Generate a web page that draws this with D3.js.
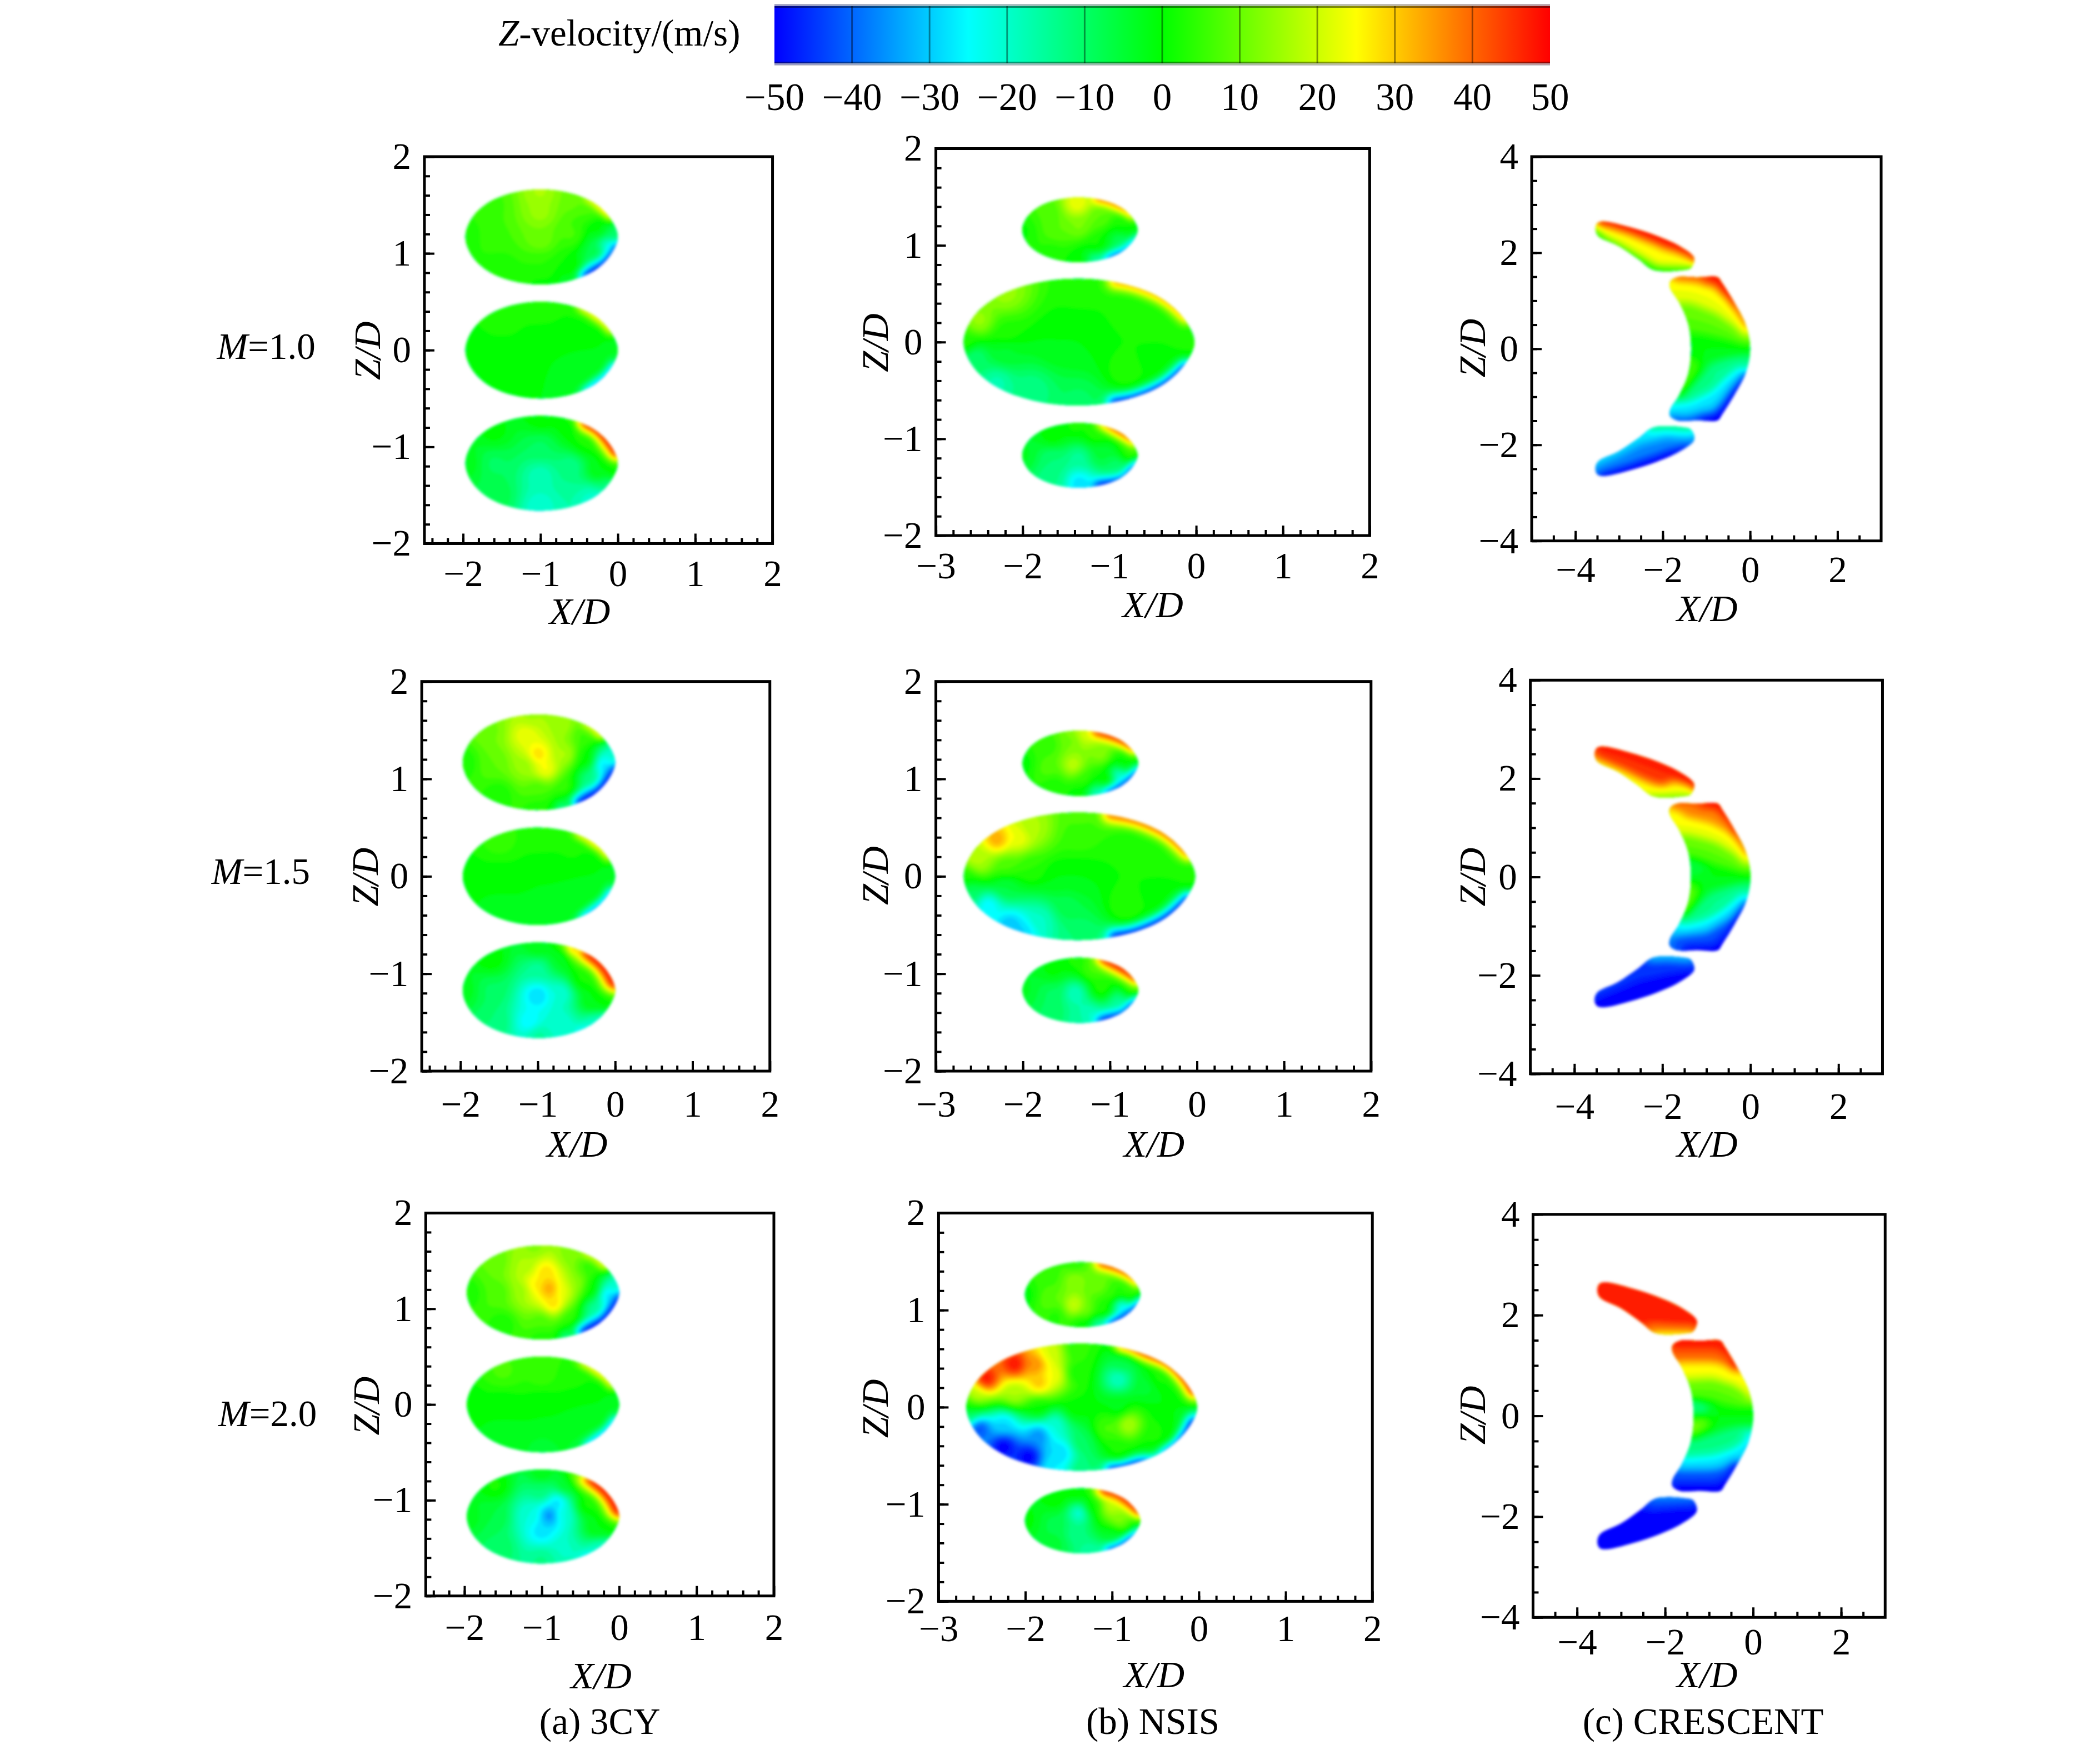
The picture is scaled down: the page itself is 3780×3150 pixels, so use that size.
<!DOCTYPE html>
<html>
<head>
<meta charset="utf-8">
<script src="https://cdn.jsdelivr.net/npm/d3@7"></script>
<style>
body { margin: 0; background: #fff; }
text { font-family: "Liberation Serif", serif; fill: #000; }
</style>
</head>
<body>
<div id="chart"></div>
<script>
// velocity ticks and row / column names
const colorTicks = [-50, -40, -30, -20, -10, 0, 10, 20, 30, 40, 50];
const colorDomain = [-50, -25, 0, 25, 50];
const colorRange = ["#0000ff", "#00ffff", "#00ff00", "#ffff00", "#ff0000"];
const blowingRatios = ["1.0", "1.5", "2.0"];
const captions = ["(a) 3CY", "(b) NSIS", "(c) CRESCENT"];

// axis ranges per column
const xDomains = [[-2.5, 2], [-3, 2], [-5, 3]];
const zDomains = [[-2, 2], [-2, 2], [-4, 4]];
const xSteps = [1, 1, 2];
const zSteps = [1, 1, 2];
const minorSteps = [0.2, 0.2, 0.5];

// hole outlines
const ovalUnit = [[1, 0], [.92, .34], [.72, .68], [.4, .91], [0, 1], [-.4, .92], [-.72, .7], [-.92, .38], [-1, 0],
  [-.92, -.38], [-.72, -.7], [-.4, -.92], [0, -1], [.4, -.91], [.72, -.68], [.92, -.34]];
const cyHoles = [[-.985, 1.17, .985, .49], [-.985, 0, .985, .5], [-.985, -1.17, .985, .49]];
const nsisHoles = [[-1.34, 1.16, .665, .335], [-1.35, 0, 1.33, .655], [-1.34, -1.17, .665, .335]];
const wingUpper = [[-3.35, 2.65], [-2.75, 2.53], [-2.13, 2.35], [-1.62, 2.14], [-1.28, 1.89], [-1.36, 1.68], [-1.51, 1.64],
  [-2.21, 1.64], [-2.55, 1.86], [-3.01, 2.14], [-3.48, 2.35], [-3.54, 2.5], [-3.49, 2.62]];
const crescentMid = [[-1.67, 1.49], [-1.2, 1.49], [-.74, 1.49], [-.64, 1.37], [-.36, .96], [-.1, .5], [0, 0], [-.1, -.5], [-.36, -.96],
  [-.64, -1.37], [-.74, -1.49], [-1.2, -1.49], [-1.67, -1.49], [-1.83, -1.4], [-1.83, -1.27], [-1.62, -.96], [-1.41, -.5], [-1.35, 0],
  [-1.41, .5], [-1.62, .96], [-1.83, 1.27], [-1.83, 1.4]];
const wingLower = [[-3.35, -2.65], [-2.75, -2.53], [-2.13, -2.35], [-1.62, -2.14], [-1.28, -1.89], [-1.36, -1.68], [-1.51, -1.64],
  [-2.21, -1.64], [-2.55, -1.86], [-3.01, -2.14], [-3.48, -2.35], [-3.54, -2.5], [-3.49, -2.62]];

// Z-velocity at [x/D, z/D, m/s], one list per hole
const cy10Top = [[-1.95,1.17,3],[-1.6,1.5,7],[-1.6,1.17,7],[-1.55,.85,3],[-1,1.64,18],[-1,1.42,16],[-1,1.15,12],[-1,.88,5],[-1,.68,2],[-.6,1.58,12],[-.6,1.2,8],[-.6,.85,3],[-.4,1.45,8],[-.25,1.25,1],[-.05,1.2,-8],[-.28,1.02,-6],[-.13,1.07,-22],[-.55,.72,-3]];
const cy10Mid = [[-1.95,0,1],[-1.5,.35,4],[-1.5,0,2],[-1.5,-.35,1],[-1,.48,4],[-1,0,0],[-1,-.48,0],[-.5,.3,2],[-.5,-.3,-1],[-.3,.15,1],[-.05,0,-2],[-.3,-.15,-1]];
const cy10Bot = [[-1.95,-1.17,-1],[-1.6,-.85,1],[-1.6,-1.17,-8],[-1.55,-1.5,-6],[-1,-.7,2],[-1,-1,-8],[-1,-1.3,-17],[-1,-1.62,-20],[-.6,-.8,1],[-.6,-1.2,-12],[-.6,-1.55,-15],[-.42,-.95,3],[-.25,-1.25,0],[-.05,-1.25,2],[-.15,-1.4,-10],[-.35,-1.5,-18]];

const cy15Top = [[-1.95,1.17,3],[-1.6,1.5,12],[-1.55,1.17,10],[-1.5,.85,3],[-1.1,1.64,17],[-1.15,1.45,25],[-1.15,1.15,16],[-1,1.25,30],[-.9,1.1,26],[-1,.9,8],[-1,.68,3],[-.7,1.55,17],[-.65,1.25,18],[-.65,.9,6],[-.4,1.45,7],[-.38,1.2,2],[-.15,1.14,-27],[-.03,1.18,-18],[-.32,1,-12],[-.6,.72,-3]];
const cy15Mid = [[-1.95,0,1],[-1.5,.35,6],[-1.5,0,1],[-1.5,-.35,-1],[-1,.48,5],[-1,0,0],[-1,-.48,-2],[-.5,.3,3],[-.5,-.3,-1],[-.3,.15,1],[-.05,0,-2],[-.3,-.15,-1]];
const cy15Bot = [[-1.95,-1.17,-1],[-1.6,-.85,2],[-1.6,-1.17,-8],[-1.55,-1.5,-10],[-1,-.72,0],[-1,-.95,-14],[-1,-1.22,-28],[-1.1,-1.5,-25],[-1,-1.63,-14],[-.7,-.85,-2],[-.7,-1.2,-20],[-.7,-1.52,-20],[-.47,-.73,4],[-.42,-1.05,3],[-.3,-1.3,0],[-.09,-1.32,2],[-.27,-1.5,-18]];

const cy20Top = [[-1.95,1.17,3],[-1.6,1.5,10],[-1.55,1.17,8],[-1.5,.85,3],[-1.1,1.64,14],[-1.2,1.45,18],[-1.25,1.2,16],[-.9,1.21,36],[-.95,1.38,30],[-.85,1.05,30],[-1.1,1.25,28],[-.72,1.2,24],[-1,.87,8],[-1,.68,3],[-.65,1.55,14],[-.55,1.25,15],[-.65,.9,6],[-.4,1.45,6],[-.36,1.2,2],[-.15,1.14,-27],[-.03,1.2,-18],[-.32,1,-14],[-.6,.72,-3]];
const cy20Mid = [[-1.95,0,1],[-1.5,.35,8],[-1.5,0,1],[-1.5,-.35,-2],[-1,.48,6],[-1,.3,6],[-1,0,0],[-1,-.48,-3],[-.5,.3,3],[-.5,-.3,-2],[-.3,.15,1],[-.05,0,-2],[-.3,-.15,-1]];
const cy20Bot = [[-1.95,-1.17,-1],[-1.6,-.85,3],[-1.6,-1.17,-5],[-1.55,-1.5,-8],[-1,-.72,0],[-1,-.9,-10],[-.895,-1.16,-36],[-.8,-1.02,-27],[-1,-1.32,-27],[-1.15,-1.15,-20],[-.72,-1.15,-20],[-1,-1.63,-12],[-.7,-.85,-3],[-.7,-1.52,-18],[-.47,-.73,4],[-.42,-1.05,3],[-.3,-1.3,0],[-.09,-1.32,2],[-.27,-1.5,-18]];

const nsis10Top = [[-2,1.15,2],[-1.7,1.35,8],[-1.6,1.15,10],[-1.65,.95,4],[-1.37,1.43,25],[-1.35,1.2,13],[-1.35,.85,1],[-1.1,1.3,10],[-1.15,1,3],[-.85,1.2,3],[-.72,1.15,1],[-.87,1.06,-8],[-1.15,.85,-15]];
const nsis10Mid = [[-2.65,0,4],[-2.5,.22,16],[-2.2,.5,16],[-2.2,.1,4],[-1.6,0,0],[-1.35,0,0],[-1.35,.6,4],[-1.35,-.6,-8],[-.8,.3,3],[-.8,-.3,4],[-.1,0,3],[-.55,.2,3],[-2.3,-.42,-16],[-2.55,-.15,-10],[-2.2,-.1,-3],[-1.9,-.5,-12],[-.55,-.2,2]];
const nsis10Bot = [[-2,-1.17,-2],[-1.65,-.97,2],[-1.65,-1.2,-10],[-1.65,-1.4,-12],[-1.35,-1.2,-14],[-1.35,-1.45,-27],[-1.4,-.87,3],[-1.15,-.95,4],[-1.1,-1.15,-4],[-.75,-1.15,6],[-.9,-1.3,-10]];

const nsis15Top = [[-2,1.15,1],[-1.7,1.35,6],[-1.7,1.1,9],[-1.65,.95,3],[-1.42,1.14,20],[-1.42,1.4,12],[-1.3,1.45,22],[-1.3,1,6],[-1.35,.85,1],[-1.1,1.25,14],[-1.05,1,3],[-.85,1.17,2],[-.72,1.18,2],[-.9,1.04,-20],[-1.15,.84,-18]];
const nsis15Mid = [[-2.65,0,3],[-2.55,.2,20],[-2.3,.38,35],[-2.05,.4,25],[-2.5,.15,18],[-1.9,.5,18],[-1.9,.1,5],[-2.2,.1,8],[-1.6,0,0],[-1.35,0,0],[-1.35,.4,6],[-1.35,.62,8],[-1.35,-.62,-10],[-.8,.3,3],[-.8,-.3,5],[-.1,0,3],[-.55,.2,3],[-2.6,-.15,-8],[-2.4,-.3,-25],[-2.15,-.5,-30],[-2,-.57,-28],[-1.8,-.45,-18],[-2.2,-.1,-5],[-1.5,-.3,-6],[-.55,-.2,2]];
const nsis15Bot = [[-2,-1.17,-2],[-1.65,-.97,1],[-1.65,-1.2,-8],[-1.65,-1.4,-8],[-1.4,-1.2,-18],[-1.35,-1.45,-14],[-1.4,-.87,3],[-1.2,-.95,8],[-1.1,-1.15,4],[-.72,-1.17,6],[-.9,-1.3,-14],[-1.25,-1.42,-18]];

const nsis20Top = [[-2,1.15,1],[-1.7,1.35,6],[-1.7,1.1,10],[-1.65,.95,4],[-1.43,1.05,22],[-1.43,1.31,15],[-1.43,1.47,5],[-1.3,1,12],[-1.35,.85,1],[-1.15,1.25,12],[-1.1,1,4],[-1,1.15,6],[-.72,1.16,6],[-.85,1.17,6],[-.89,1.05,-24],[-1.15,.84,-16]];
const nsis20Mid = [[-2.45,.29,50],[-2.12,.44,50],[-1.88,.44,38],[-1.84,.25,32],[-1.67,.33,25],[-1.71,.55,22],[-2.57,.13,20],[-2.12,.15,18],[-2.66,0,3],[-1.84,0,2],[-1.42,0,2],[-1.42,.36,3],[-1.42,.6,5],[-.93,.29,-18],[-.89,.47,-5],[-.6,.22,-4],[-.93,0,-1],[-.4,0,0],[-.81,-.18,18],[-1.06,-.22,8],[-.52,-.29,4],[-.93,-.44,3],[-.48,.29,3],[-.53,-.44,0],[-2.53,-.22,-42],[-2.25,-.4,-50],[-1.96,-.51,-50],[-1.84,-.29,-35],[-2.25,-.18,-28],[-1.67,-.18,-20],[-1.59,-.47,-28],[-1.67,-.62,-25],[-1.34,-.36,-8],[-1.34,-.65,-10],[-.4,-.29,2],[-2.66,-.07,-10]];
const nsis20Bot = [[-2,-1.17,1],[-1.65,-.95,2],[-1.65,-1.2,-6],[-1.65,-1.4,-4],[-1.38,-1.09,-20],[-1.42,-1.31,-12],[-1.42,-.87,2],[-1.01,-1.02,20],[-.93,-1.16,14],[-1.22,-1.02,2],[-.7,-1.2,3],[-1.25,-1.5,-15],[-1,-1.31,-3]];

// streaks along the rim of an oval hole: [from angle, to angle, m/s, reach]
const cy10TopRim = [[25, 52, 42, .03], [-12, -58, -50, .2]];
const cy10MidRim = [[25, 58, 38, .03], [-18, -55, -42, .03]];
const cy10BotRim = [[12, 58, 50, .2], [-25, -55, -30, .03]];
const cy15TopRim = [[35, 52, 38, .03], [-6, -60, -50, .35], [-60, -72, -35, .05]];
const cy15MidRim = [[25, 58, 38, .03], [-18, -55, -45, .03]];
const cy15BotRim = [[10, 62, 50, .4], [-25, -58, -28, .03]];
const cy20TopRim = [[35, 55, 38, .03], [-4, -60, -50, .35], [-60, -72, -35, .05]];
const cy20MidRim = [[25, 58, 38, .03], [-18, -55, -42, .03]];
const cy20BotRim = [[8, 58, 50, .45], [-25, -58, -28, .03]];
const nsis10TopRim = [[25, 72, 50, .03], [-10, -62, -50, .05]];
const nsis10MidRim = [[22, 72, 38, .02], [-22, -72, -48, .03]];
const nsis10BotRim = [[22, 68, 48, .05], [-15, -70, -50, .07]];
const nsis15TopRim = [[22, 75, 50, .09], [-10, -62, -50, .12]];
const nsis15MidRim = [[20, 75, 42, .04], [-20, -72, -48, .05]];
const nsis15BotRim = [[15, 68, 50, .15], [-15, -70, -50, .09]];
const nsis20TopRim = [[20, 72, 50, .05], [-8, -62, -50, .14]];
const nsis20MidRim = [[15, 70, 50, .05], [-15, -75, -50, .07]];
const nsis20BotRim = [[12, 68, 50, .2], [-12, -62, -50, .07]];

// crescent holes read as lines of like velocity: [m/s, reach, [x/D, z/D], ...]
const crescent10Top = [[50, .3, [-3.35,2.64],[-2.75,2.52],[-2.13,2.34],[-1.62,2.13],[-1.3,1.9]], [26, 1, [-3.27,2.4],[-2.6,2.09],[-2.03,1.84],[-1.46,1.81]], [3, .6, [-3.48,2.33],[-3.01,2.12],[-2.55,1.84],[-2.21,1.62],[-1.4,1.62]]];
const crescent10Mid = [[50, .35, [-1,1.49],[-.74,1.49],[-.64,1.37],[-.36,.96]], [42, .25, [-1.67,1.49],[-1,1.49]], [44, .3, [-.36,.96],[-.1,.5]], [25, 1, [-1.78,1.3],[-1.2,1.2],[-.58,.91],[-.25,.55],[-.13,.35]], [10, 1, [-1.45,.7],[-.9,.55],[-.4,.35],[-.1,.15]], [0, 1, [-1.3,.05],[-.05,0]], [8, .6, [-1.38,-.4],[-1.55,-.85]], [-12, 1, [-1.4,-.95],[-.9,-.75],[-.45,-.42],[-.1,-.25]], [-27, 1, [-1.55,-1.3],[-1.2,-1.19],[-.8,-1],[-.53,-.68],[-.25,-.45]], [-50, .35, [-.08,-.6],[-.36,-.96],[-.64,-1.37],[-.74,-1.49],[-1.1,-1.49]], [-42, .25, [-1.67,-1.49],[-1.1,-1.49]]];
const crescent10Bot = [[-10, .6, [-2.21,-1.62],[-1.4,-1.62]], [-26, 1, [-3.48,-2.33],[-3.01,-2.12],[-2.55,-1.84],[-1.9,-1.75],[-1.3,-1.85]], [-36, 1, [-3.4,-2.45],[-2.6,-2.15],[-1.9,-1.93],[-1.35,-1.95]], [-50, .3, [-3.35,-2.64],[-2.75,-2.52],[-2.13,-2.34],[-1.62,-2.13],[-1.3,-1.9]]];

const crescent15Top = [[50, .8, [-3.35,2.64],[-2.75,2.52],[-2.13,2.34],[-1.62,2.13],[-1.3,1.9]], [46, 1, [-3.4,2.45],[-2.6,2.2],[-2,1.98]], [25, 1, [-3.48,2.32],[-3,2.1],[-2.55,1.85],[-2.2,1.72],[-1.45,1.76]], [8, .3, [-2.21,1.62],[-1.4,1.62]]];
const crescent15Mid = [[50, .4, [-1.1,1.49],[-.74,1.49],[-.64,1.37],[-.36,.96]], [42, .3, [-1.67,1.49],[-1.1,1.49]], [44, .3, [-.36,.96],[-.1,.5]], [38, 1, [-1.4,1.3],[-.85,1.22],[-.55,1.05]], [25, 1, [-1.75,1.2],[-1.2,1.05],[-.6,.85],[-.25,.55],[-.13,.35]], [10, 1, [-1.45,.65],[-.9,.55],[-.4,.35],[-.1,.15]], [0, 1, [-1.15,.02],[-.05,0]], [-6, .6, [-1.35,.2],[-1.15,.1]], [10, .6, [-1.38,-.3],[-1.5,-.7]], [-12, 1, [-1.45,-.85],[-.85,-.68],[-.4,-.42],[-.1,-.22]], [-27, 1, [-1.62,-1.1],[-1,-1.02],[-.53,-.72],[-.2,-.4]], [-42, 1, [-1.6,-1.3],[-1,-1.25],[-.55,-1.05]], [-50, .4, [-.08,-.6],[-.36,-.96],[-.64,-1.37],[-.74,-1.49],[-1.4,-1.49]]];
const crescent15Bot = [[-30, .6, [-2.21,-1.64],[-1.4,-1.64]], [-44, 1, [-3.48,-2.34],[-3,-2.1],[-2.55,-1.86],[-1.9,-1.8],[-1.3,-1.88]], [-50, 1, [-3.35,-2.6],[-2.75,-2.45],[-2.13,-2.25],[-1.62,-2.08],[-1.3,-1.95]]];

const crescent20Top = [[50, 1, [-3.35,2.64],[-2.75,2.52],[-2.13,2.34],[-1.62,2.13],[-1.3,1.9]], [50, 1, [-3.5,2.42],[-2.6,2.1],[-2.1,2],[-1.6,1.95]], [40, .7, [-2.2,1.74],[-1.4,1.74]], [10, .06, [-2.21,1.62],[-1.4,1.62]]];
const crescent20Mid = [[50, .8, [-1.7,1.47],[-.74,1.47],[-.64,1.37],[-.4,.98]], [42, 1, [-1.8,1.2],[-1,1.2],[-.52,1.15]], [26, 1, [-1.63,.96],[-.9,.96],[-.35,.8],[-.12,.5]], [10, 1, [-1.42,.5],[-.9,.55],[-.25,.4]], [0, 1, [-1.05,0],[-.05,0]], [-12, .5, [-1.35,.2],[-1.1,.1]], [12, .5, [-1.38,-.25],[-1.1,-.1]], [-12, 1, [-1.5,-.7],[-.8,-.6],[-.3,-.45]], [-27, 1, [-1.65,-.96],[-.9,-.96],[-.35,-.82],[-.1,-.5]], [-42, 1, [-1.75,-1.2],[-1,-1.2],[-.52,-1.15]], [-50, .8, [-1.7,-1.47],[-.74,-1.47],[-.64,-1.37],[-.4,-.98]]];
const crescent20Bot = [[-32, .25, [-2.21,-1.62],[-1.4,-1.62]], [-42, 1, [-2.2,-1.74],[-1.4,-1.72]], [-50, 1, [-3.5,-2.42],[-2.6,-2.1],[-2.1,-2],[-1.6,-1.95]], [-50, 1, [-3.35,-2.64],[-2.75,-2.52],[-2.13,-2.34],[-1.62,-2.13],[-1.3,-1.9]]];

const k = 2.41; // layout below measured on a view of the reference
const panels = [
  [{ box: [317, 577, 117, 406], xp: 55, xl: [433, 466], zl: [284, 262], fields: [cy10Top, cy10Mid, cy10Bot], rims: [cy10TopRim, cy10MidRim, cy10BotRim] },
   { box: [699, 1023, 111, 400], xp: 55, xl: [861, 461], zl: [663, 256], fields: [nsis10Top, nsis10Mid, nsis10Bot], rims: [nsis10TopRim, nsis10MidRim, nsis10BotRim] },
   { box: [1144, 1405, 117, 404], xp: 53, xl: [1275, 464], zl: [1109, 260], fields: [crescent10Top, crescent10Mid, crescent10Bot] }],
  [{ box: [315, 575, 509, 800], xp: 60, xl: [431, 864], zl: [282, 655], fields: [cy15Top, cy15Mid, cy15Bot], rims: [cy15TopRim, cy15MidRim, cy15BotRim] },
   { box: [699, 1024, 509, 800], xp: 60, xl: [862, 864], zl: [663, 654], fields: [nsis15Top, nsis15Mid, nsis15Bot], rims: [nsis15TopRim, nsis15MidRim, nsis15BotRim] },
   { box: [1143, 1406, 508, 802], xp: 60, xl: [1275, 864], zl: [1109, 655], fields: [crescent15Top, crescent15Mid, crescent15Bot] }],
  [{ box: [318, 578, 906, 1192], xp: 58, xl: [449, 1261], zl: [283, 1050], fields: [cy20Top, cy20Mid, cy20Bot], rims: [cy20TopRim, cy20MidRim, cy20BotRim] },
   { box: [701, 1025, 906, 1196], xp: 50, xl: [862, 1260], zl: [663, 1052], fields: [nsis20Top, nsis20Mid, nsis20Bot], rims: [nsis20TopRim, nsis20MidRim, nsis20BotRim] },
   { box: [1145, 1408, 907, 1208], xp: 45, xl: [1275, 1260], zl: [1109, 1057], fields: [crescent20Top, crescent20Mid, crescent20Bot] }]
];
const rowLabels = [[162, 268], [158, 660], [163, 1065]];
const captionPos = [[448, 1295], [861, 1295], [1272, 1295]];

const svg = d3.select("#chart").append("svg")
  .attr("width", 3780).attr("height", 3150)
  .style("display", "block")
  .style("background", "#fff");

const color = d3.scaleLinear().domain(colorDomain).range(colorRange).clamp(true);
const defs = svg.append("defs");
defs.append("filter").attr("id", "soft")
  .attr("x", "-15%").attr("y", "-15%").attr("width", "130%").attr("height", "130%")
  .append("feGaussianBlur").attr("stdDeviation", 2.4);

// COLOUR BAR
const barX = d3.scaleLinear().domain([-50, 50]).range([1394, 2790]);
const barW = barX(50) - barX(-50);
const grad = defs.append("linearGradient").attr("id", "jet");
colorDomain.forEach(v => grad.append("stop")
  .attr("offset", (v + 50) + "%").attr("stop-color", color(v)));
svg.append("rect").attr("x", barX(-50)).attr("y", 8).attr("width", barW).attr("height", 109).attr("fill", "url(#jet)");
svg.append("rect").attr("x", barX(-50)).attr("y", 7).attr("width", barW).attr("height", 4).attr("fill", "#b4b4bc").attr("opacity", .85);
svg.append("rect").attr("x", barX(-50)).attr("y", 11).attr("width", barW).attr("height", 3).attr("fill", "#000").attr("opacity", .45);
svg.append("rect").attr("x", barX(-50)).attr("y", 111).attr("width", barW).attr("height", 3).attr("fill", "#000").attr("opacity", .4);
svg.append("rect").attr("x", barX(-50)).attr("y", 114).attr("width", barW).attr("height", 4).attr("fill", "#b4b4bc").attr("opacity", .85);
svg.selectAll(".barTick").data(colorTicks.slice(1, -1)).enter().append("line")
  .attr("x1", d => barX(d)).attr("x2", d => barX(d)).attr("y1", 11).attr("y2", 114)
  .attr("stroke", "#000").attr("stroke-width", 3).attr("opacity", .4);
svg.selectAll(".barLabel").data(colorTicks).enter().append("text")
  .attr("x", d => barX(d)).attr("y", 198).attr("text-anchor", "middle")
  .attr("font-size", 69).text(d => d3.format("d")(d));
const barTitle = svg.append("text").attr("x", 897).attr("y", 82).attr("font-size", 67);
barTitle.append("tspan").attr("font-style", "italic").text("Z");
barTitle.append("tspan").text("-velocity/(m/s)");

// PANELS
const line = d3.line().curve(d3.curveCatmullRomClosed.alpha(0.5));
let clipId = 0;

function outlineFor(col, h) {
  if (col === 2) return [wingUpper, crescentMid, wingLower][h];
  const [cx, cz, rx, rz] = (col === 0 ? cyHoles : nsisHoles)[h];
  return ovalUnit.map(p => [cx + p[0] * rx, cz + p[1] * rz]);
}

function segDist2(px, py, a, b) {
  const dx = b[0] - a[0], dy = b[1] - a[1];
  const t = Math.max(0, Math.min(1, ((px - a[0]) * dx + (py - a[1]) * dy) / (dx * dx + dy * dy || 1)));
  return (px - a[0] - t * dx) ** 2 + (py - a[1] - t * dy) ** 2;
}

// lines: { v, s, pts } in pixels
function drawHole(g, outline, samples, lines, x, z) {
  const pts = outline.map(p => [x(p[0]), z(p[1])]);
  const cell = 4, pad = 12;
  const x0 = d3.min(pts, p => p[0]) - pad, x1 = d3.max(pts, p => p[0]) + pad;
  const y0 = d3.min(pts, p => p[1]) - pad, y1 = d3.max(pts, p => p[1]) + pad;
  const nx = Math.ceil((x1 - x0) / cell), ny = Math.ceil((y1 - y0) / cell);
  const sp = samples.map(s => [x(s[0]), z(s[1]), s[2]]);

  // spread the read values over a grid so d3.contours can band them
  const grid = new Float64Array(nx * ny);
  for (let j = 0; j < ny; j++) {
    for (let i = 0; i < nx; i++) {
      const px = x0 + i * cell, py = y0 + j * cell;
      let sw = 0, sv = 0;
      for (const s of sp) {
        const d2 = (px - s[0]) ** 2 + (py - s[1]) ** 2 + 16;
        const w = 1 / (d2 * Math.sqrt(d2));
        sw += w; sv += w * s[2];
      }
      for (const l of lines) {
        let best = Infinity;
        for (let m = 1; m < l.pts.length; m++) {
          const d = segDist2(px, py, l.pts[m - 1], l.pts[m]);
          if (d < best) best = d;
        }
        const d2 = best + 16;
        const w = l.s / (d2 * Math.sqrt(d2));
        sw += w; sv += w * l.v;
      }
      grid[j * nx + i] = sv / sw;
    }
  }
  d3.blur2({ data: grid, width: nx, height: ny }, 1);

  const id = "hole" + (clipId++);
  defs.append("clipPath").attr("id", id).append("path").attr("d", line(pts));

  const thresholds = d3.range(-50, 50.01, 2.5);
  const contours = d3.contours().size([nx, ny]).thresholds(thresholds)(grid);
  const path = d3.geoPath(d3.geoTransform({
    point(a, b) { this.stream.point(x0 + (a - .5) * cell, y0 + (b - .5) * cell); }
  }));
  g.append("g").attr("filter", "url(#soft)")
    .append("g").attr("clip-path", "url(#" + id + ")")
    .selectAll("path").data(contours).enter().append("path")
    .attr("d", path)
    .attr("fill", d => color(d.value))
    .attr("stroke", d => color(d.value))
    .attr("stroke-width", 1);
}

panels.forEach((row, r) => {
  row.forEach((p, c) => {
    const [l, rgt, t, b] = p.box.map(v => v * k);
    const x = d3.scaleLinear().domain(xDomains[c]).range([l, rgt]);
    const z = d3.scaleLinear().domain(zDomains[c]).range([b, t]);
    const g = svg.append("g");

    p.fields.forEach((field, h) => {
      if (c === 2) {
        const lines = field.map(d => ({ v: d[0], s: d[1], pts: d.slice(2).map(q => [x(q[0]), z(q[1])]) }));
        drawHole(g, outlineFor(c, h), [], lines, x, z);
      } else {
        const [cx, cz, rx, rz] = (c === 0 ? cyHoles : nsisHoles)[h];
        const lines = p.rims[h].map(d => ({
          v: d[2], s: d[3],
          pts: d3.range(0, 1.001, .1).map(f => {
            const a = (d[0] + (d[1] - d[0]) * f) * Math.PI / 180;
            return [x(cx + rx * Math.cos(a)), z(cz + rz * Math.sin(a))];
          })
        }));
        drawHole(g, outlineFor(c, h), field, lines, x, z);
      }
    });

    const xMajor = d3.range(Math.ceil(xDomains[c][0] / xSteps[c]) * xSteps[c], xDomains[c][1] + .01, xSteps[c]);
    const zMajor = d3.range(zDomains[c][0], zDomains[c][1] + .01, zSteps[c]);
    const xMinor = d3.range(Math.ceil(xDomains[c][0] / minorSteps[c] - .001) * minorSteps[c], xDomains[c][1] - .01, minorSteps[c]);
    const zMinor = d3.range(zDomains[c][0], zDomains[c][1] + .01, minorSteps[c]);

    const style = (a, w) => {
      a.select(".domain").remove();
      a.selectAll("line").attr("stroke", "#000").attr("stroke-width", w);
      a.selectAll("text").attr("font-size", 67).attr("font-family", '"Liberation Serif", serif').attr("fill", "#000");
    };
    g.append("g").attr("transform", `translate(0,${b})`)
      .call(d3.axisBottom(x).tickValues(xMinor).tickSize(-10).tickFormat("")).call(style, 4);
    g.append("g").attr("transform", `translate(0,${b})`)
      .call(d3.axisBottom(x).tickValues(xMajor).tickSize(-18).tickPadding(p.xp - 26).tickFormat(d3.format("d"))).call(style, 4);
    g.append("g").attr("transform", `translate(${l},0)`)
      .call(d3.axisLeft(z).tickValues(zMinor).tickSize(-10).tickFormat("")).call(style, 4);
    g.append("g").attr("transform", `translate(${l},0)`)
      .call(d3.axisLeft(z).tickValues(zMajor).tickSize(-18).tickPadding(24).tickFormat(d3.format("d"))).call(style, 4);

    g.append("rect").attr("x", l).attr("y", t).attr("width", rgt - l).attr("height", b - t)
      .attr("fill", "none").attr("stroke", "#000").attr("stroke-width", 5);

    g.append("text").attr("x", p.xl[0] * k).attr("y", p.xl[1] * k)
      .attr("text-anchor", "middle").attr("font-size", 68).attr("font-style", "italic").text("X/D");
    g.append("text")
      .attr("transform", `translate(${p.zl[0] * k},${p.zl[1] * k}) rotate(-90)`)
      .attr("text-anchor", "middle").attr("font-size", 68).attr("font-style", "italic").text("Z/D");
  });

  const label = svg.append("text").attr("x", rowLabels[r][0] * k).attr("y", rowLabels[r][1] * k).attr("font-size", 67);
  label.append("tspan").attr("font-style", "italic").text("M");
  label.append("tspan").text("=" + blowingRatios[r]);
});

svg.selectAll(".caption").data(captions).enter().append("text")
  .attr("x", (d, i) => captionPos[i][0] * k).attr("y", (d, i) => captionPos[i][1] * k)
  .attr("text-anchor", "middle").attr("font-size", 67).text(d => d);
</script>
</body>
</html>
